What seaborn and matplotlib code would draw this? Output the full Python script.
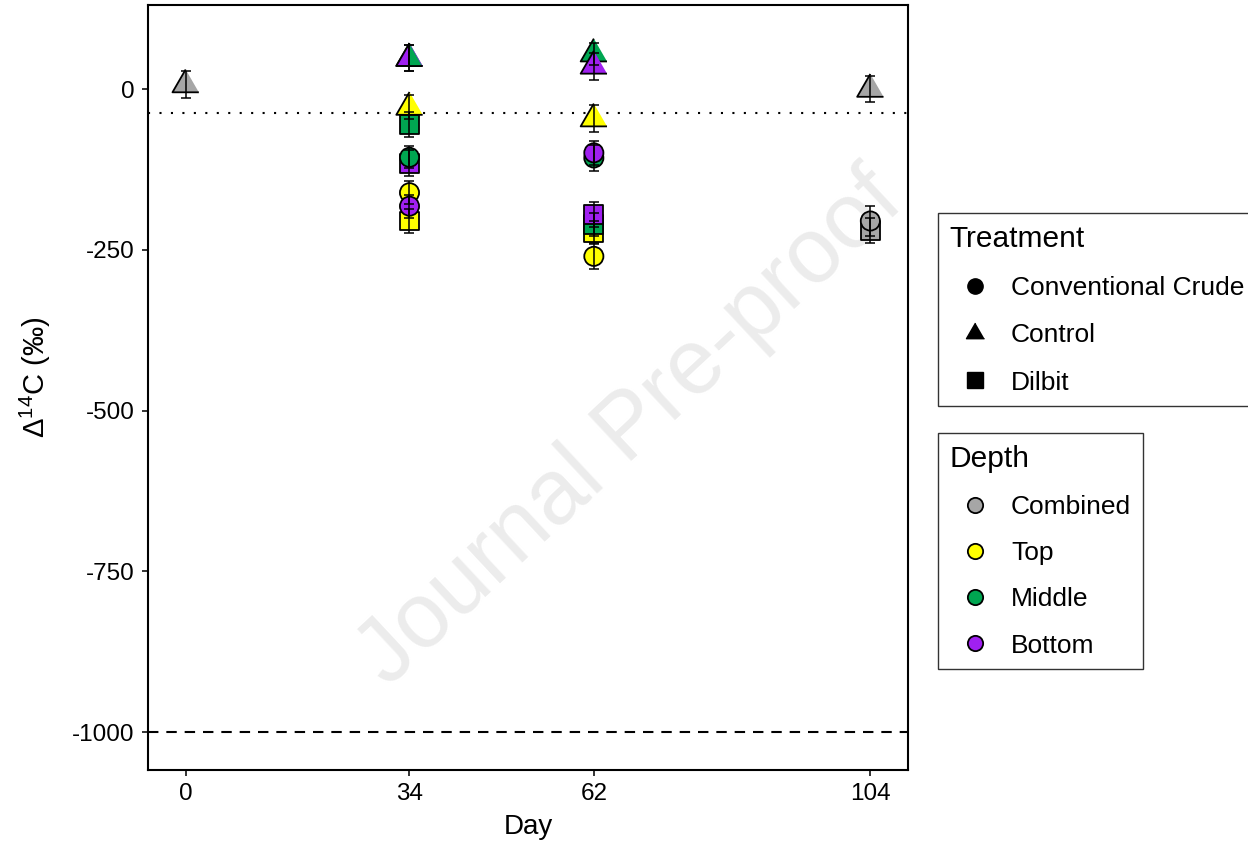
import pandas as pd
import matplotlib
matplotlib.use("Agg")
import matplotlib.pyplot as plt
from matplotlib.lines import Line2D
import seaborn as sns

sns.set_style("white")
plt.rcParams["font.family"] = ["Liberation Sans", "DejaVu Sans"]
plt.rcParams["mathtext.fontset"] = "custom"
plt.rcParams["mathtext.rm"] = "Liberation Sans"
plt.rcParams["axes.unicode_minus"] = False
plt.rcParams["text.color"] = "black"
plt.rcParams["axes.labelcolor"] = "black"

# Data (draw order: Dilbit, Conventional Crude, Control)
day = [34, 34, 34, 62, 62, 62, 104,
       34, 34, 34, 62, 62, 62, 104,
       0, 34, 34, 34, 62, 62, 62, 104]
treatment = (["Dilbit"] * 7 + ["Conventional Crude"] * 7 + ["Control"] * 8)
depth = ["Top", "Middle", "Bottom", "Top", "Middle", "Bottom", "Combined",
         "Top", "Middle", "Bottom", "Top", "Middle", "Bottom", "Combined",
         "Combined", "Top", "Middle", "Bottom", "Top", "Middle", "Bottom", "Combined"]
d14c = [-205, -55, -115, -223, -210, -195, -220,
        -161, -106, -182, -260, -107, -99, -205,
        7, -28, 48, 48, -46, 55, 36, 0]
err = [18, 20, 20, 18, 18, 19, 20,
       18, 17, 18, 20, 20, 19, 24,
       21, 19, 20, 20, 21, 17, 21, 20]

modern_line = -37
dead_line = -1000

depth_order = ["Combined", "Top", "Middle", "Bottom"]
depth_colors = {"Combined": "#A6A6A6", "Top": "#FFFF00",
                "Middle": "#00A651", "Bottom": "#A020F0"}
treat_order = ["Conventional Crude", "Control", "Dilbit"]
tri = [(0, 1), (-0.866, -0.5), (0.866, -0.5)]
tri_right = [(0, 1), (0, -0.5), (0.866, -0.5)]
treat_markers = {"Conventional Crude": "o", "Control": tri, "Dilbit": "s"}
treat_sizes = {"Conventional Crude": 190, "Control": 480, "Dilbit": 185}

df = pd.DataFrame({"Day": day, "Treatment": treatment, "Depth": depth,
                   "D14C": d14c, "err": err})

fig = plt.figure(figsize=(12.48, 8.46), dpi=100)
ax = fig.add_axes([148 / 1248, 1 - 770 / 846, 760 / 1248, 765 / 846])

ax.text(0.635, 0.445, "Journal Pre-proof", transform=ax.transAxes, fontsize=66,
        color="#ECECEC", rotation=43, ha="center", va="center", zorder=0)

ax.axhline(modern_line, color="black", lw=1.5, dashes=(1, 4.5), zorder=1)
ax.axhline(dead_line, color="black", lw=1.5, dashes=(5, 3.8), zorder=1)

sns.scatterplot(data=df, x="Day", y="D14C", hue="Depth", style="Treatment",
                size="Treatment", palette=depth_colors, markers=treat_markers,
                sizes=treat_sizes, edgecolor="black", linewidth=1.3,
                legend=False, ax=ax, zorder=3)

# green half of the overlapping control triangles on day 34
half = df[(df.Day == 34) & (df.Depth == "Middle") & (df.Treatment == "Control")]
ax.scatter(half.Day, half.D14C, marker=tri_right, s=480,
           color=depth_colors["Middle"], edgecolor="black", linewidth=1.3, zorder=3)

ax.errorbar(df.Day, df.D14C, yerr=df.err, fmt="none", ecolor="black",
            elinewidth=1.1, capsize=3.6, capthick=1.1, zorder=4)

rng = max(df.D14C + df.err) - dead_line
ax.set_xlim(-0.055 * 104, 104 * 1.055)
ax.set_ylim(dead_line - 0.055 * rng, max(df.D14C + df.err) + 0.055 * rng)
ax.set_xticks([0, 34, 62, 104])
ax.set_yticks([0, -250, -500, -750, -1000])
ax.tick_params(axis="both", direction="out", length=4.5, width=1.4,
               color="#333333", labelsize=17.5, labelcolor="black", pad=5,
               bottom=True, left=True)
for sp in ax.spines.values():
    sp.set_color("black")
    sp.set_linewidth(1.5)
ax.set_xlabel("Day", fontsize=20, labelpad=6)
ax.set_ylabel("Δ$^{14}$C (‰)", fontsize=21)
ax.yaxis.set_label_coords(-0.125, 0.513)

# legends
treat_handles = [Line2D([], [], ls="none", marker=treat_markers[t], color="black",
                        markersize=11 if t != "Control" else 15)
                 for t in treat_order]
leg1 = fig.legend(treat_handles, treat_order, title="Treatment",
                  loc="upper left", bbox_to_anchor=(938 / 1248, 1 - 213 / 846),
                  fontsize=19, title_fontsize=21.5, frameon=True,
                  fancybox=False, edgecolor="black", labelspacing=0.88,
                  handlelength=1.9, handletextpad=0.42, borderpad=0.45,
                  alignment="left", borderaxespad=0)
leg1.get_frame().set_linewidth(1.0)

depth_handles = [Line2D([], [], ls="none", marker="o", markersize=11,
                        markerfacecolor=depth_colors[d], markeredgecolor="black",
                        markeredgewidth=1.3)
                 for d in depth_order]
leg2 = fig.legend(depth_handles, depth_order, title="Depth",
                  loc="upper left", bbox_to_anchor=(938 / 1248, 1 - 433 / 846),
                  fontsize=19, title_fontsize=21.5, frameon=True,
                  fancybox=False, edgecolor="black", labelspacing=0.84,
                  handlelength=1.9, handletextpad=0.42, borderpad=0.45,
                  alignment="left", borderaxespad=0)
leg2.get_frame().set_linewidth(1.0)

fig.savefig("out.png", dpi=100)
